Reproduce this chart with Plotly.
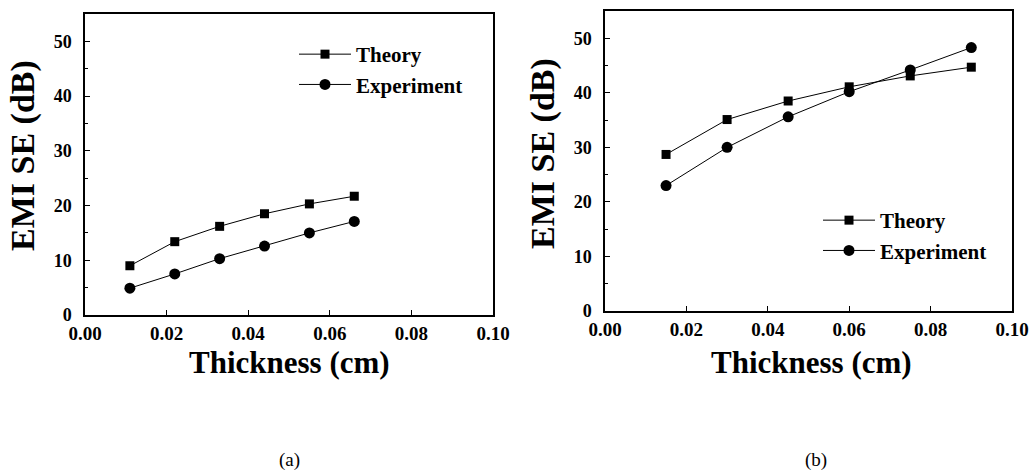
import plotly.graph_objects as go

# Panel (a)
thick_a = [0.011, 0.022, 0.033, 0.044, 0.055, 0.066]
theory_a = [9.0, 13.4, 16.2, 18.5, 20.3, 21.7]
exper_a = [4.9, 7.5, 10.3, 12.6, 15.0, 17.1]

# Panel (b)
thick_b = [0.015, 0.030, 0.045, 0.060, 0.075, 0.090]
theory_b = [28.7, 35.1, 38.5, 41.1, 43.1, 44.7]
exper_b = [23.0, 30.0, 35.6, 40.2, 44.2, 48.3]

x_ticks = [0.00, 0.02, 0.04, 0.06, 0.08, 0.10]
x_tick_text = ["0.00", "0.02", "0.04", "0.06", "0.08", "0.10"]
y_ticks = [0, 10, 20, 30, 40, 50]

W, H = 1032, 470
SERIF = "Liberation Serif"


def px_x(p):
    return p / W


def px_y(p):
    return 1 - p / H


fig = go.Figure()

line_style = dict(color="black", width=1)

fig.add_trace(go.Scatter(x=thick_a, y=theory_a, mode="lines+markers", name="Theory",
                         line=line_style, marker=dict(symbol="square", size=9, color="black"),
                         xaxis="x", yaxis="y", legend="legend"))
fig.add_trace(go.Scatter(x=thick_a, y=exper_a, mode="lines+markers", name="Experiment",
                         line=line_style, marker=dict(symbol="circle", size=11, color="black"),
                         xaxis="x", yaxis="y", legend="legend"))
fig.add_trace(go.Scatter(x=thick_b, y=theory_b, mode="lines+markers", name="Theory",
                         line=line_style, marker=dict(symbol="square", size=9, color="black"),
                         xaxis="x2", yaxis="y2", legend="legend2"))
fig.add_trace(go.Scatter(x=thick_b, y=exper_b, mode="lines+markers", name="Experiment",
                         line=line_style, marker=dict(symbol="circle", size=11, color="black"),
                         xaxis="x2", yaxis="y2", legend="legend2"))

tick_font_y = dict(family=SERIF, size=18, color="black", weight=700)
tick_font_x = dict(family=SERIF, size=19, color="black", weight=700)


def xaxis(domain, anchor):
    return dict(domain=domain, anchor=anchor, range=[0, 0.1], tickvals=x_ticks,
                ticktext=x_tick_text, ticks="inside", ticklen=5, tickwidth=1,
                tickcolor="black", showline=True, linecolor="black", linewidth=1.5,
                mirror=True, showgrid=False, zeroline=False, tickfont=tick_font_x,
                ticklabelstandoff=0, automargin=False)


def yaxis(domain, anchor):
    return dict(domain=domain, anchor=anchor, range=[0, 55], tickvals=y_ticks,
                ticks="inside", ticklen=5, tickwidth=1, tickcolor="black",
                minor=dict(dtick=5, tick0=0, ticks="inside", ticklen=3, tickcolor="black",
                           tickwidth=1, showgrid=False),
                showline=True, linecolor="black", linewidth=1.5, mirror=True,
                showgrid=False, zeroline=False, tickfont=tick_font_y,
                ticklabelstandoff=8, automargin=False)


legend_font = dict(family=SERIF, size=21, color="black", weight=700)

fig.update_layout(
    width=W, height=H,
    margin=dict(l=0, r=0, t=0, b=0, autoexpand=False),
    paper_bgcolor="white", plot_bgcolor="white",
    xaxis=xaxis([px_x(85), px_x(493)], "y"),
    yaxis=yaxis([px_y(315), px_y(14)], "x"),
    xaxis2=xaxis([px_x(605), px_x(1012)], "y2"),
    yaxis2=yaxis([px_y(311), px_y(11)], "x2"),
    legend=dict(x=px_x(294), y=px_y(34), xanchor="left", yanchor="top",
                bgcolor="rgba(0,0,0,0)", font=legend_font, itemwidth=52,
                tracegroupgap=0),
    legend2=dict(x=px_x(818), y=px_y(200), xanchor="left", yanchor="top",
                 bgcolor="rgba(0,0,0,0)", font=legend_font, itemwidth=52,
                 tracegroupgap=0),
    showlegend=True,
)

title_font = dict(family=SERIF, size=34, color="black", weight=700)
xtitle_font = dict(family=SERIF, size=31, color="black", weight=700)
cap_font = dict(family=SERIF, size=19, color="black")

annotations = [
    dict(text="EMI SE (dB)", x=px_x(23), y=px_y(156), textangle=-90, font=title_font),
    dict(text="EMI SE (dB)", x=px_x(543), y=px_y(154), textangle=-90, font=title_font),
    dict(text="Thickness (cm)", x=px_x(289), y=px_y(362), font=xtitle_font),
    dict(text="Thickness (cm)", x=px_x(811), y=px_y(362), font=xtitle_font),
    dict(text="(a)", x=px_x(289), y=px_y(460), font=cap_font),
    dict(text="(b)", x=px_x(816), y=px_y(460), font=cap_font),
]
for a in annotations:
    a.update(xref="paper", yref="paper", xanchor="center", yanchor="middle",
             showarrow=False)
fig.update_layout(annotations=annotations)

fig.write_html("out.html")
